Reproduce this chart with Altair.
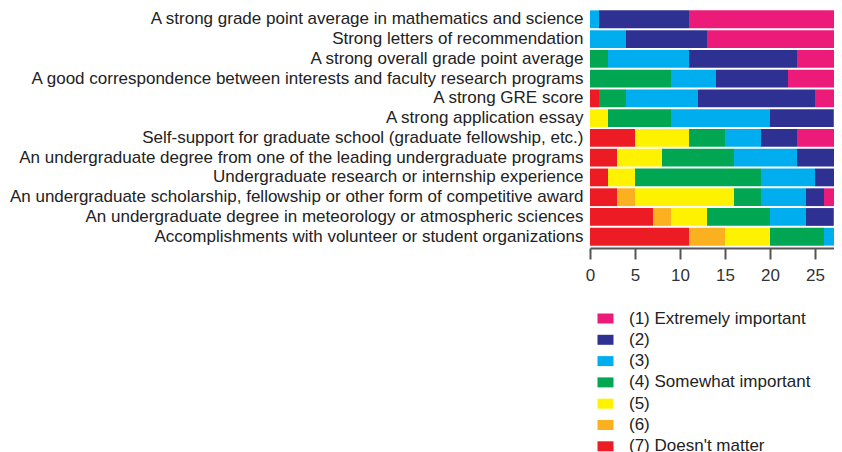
import altair as alt
import pandas as pd

items = [
    "A strong grade point average in mathematics and science",
    "Strong letters of recommendation",
    "A strong overall grade point average",
    "A good correspondence between interests and faculty research programs",
    "A strong GRE score",
    "A strong application essay",
    "Self-support for graduate school (graduate fellowship, etc.)",
    "An undergraduate degree from one of the leading undergraduate programs",
    "Undergraduate research or internship experience",
    "An undergraduate scholarship, fellowship or other form of competitive award",
    "An undergraduate degree in meteorology or atmospheric sciences",
    "Accomplishments with volunteer or student organizations",
]

levels = [
    "(1) Extremely important",
    "(2)",
    "(3)",
    "(4) Somewhat important",
    "(5)",
    "(6)",
    "(7) Doesn't matter",
]
colors = ["#EC1B7A", "#2E3192", "#00AEEF", "#00A651", "#FFF200", "#FBB01F", "#ED1C24"]

lvl1 = [17, 15, 5, 6, 3, 1, 5, 0, 0, 2, 1, 0]
lvl2 = [10, 9, 12, 8, 13, 7, 4, 5, 3, 2, 3, 0]
lvl3 = [1, 4, 9, 5, 8, 11, 4, 7, 6, 5, 4, 2]
lvl4 = [0, 0, 2, 9, 3, 7, 4, 8, 14, 3, 7, 6]
lvl5 = [0, 0, 0, 0, 0, 2, 6, 5, 3, 11, 4, 5]
lvl6 = [0, 0, 0, 0, 0, 0, 0, 0, 0, 2, 2, 4]
lvl7 = [0, 0, 0, 0, 1, 0, 5, 3, 2, 3, 7, 11]

series = [lvl1, lvl2, lvl3, lvl4, lvl5, lvl6, lvl7]

rows = []
for k, (lab, vals) in enumerate(zip(levels, series)):
    for it, v in zip(items, vals):
        rows.append({"item": it, "level": lab, "count": v, "ord": 7 - k})
df = pd.DataFrame(rows)

font = "Liberation Sans"

chart = (
    alt.Chart(df)
    .mark_bar(clip=True)
    .encode(
        y=alt.Y(
            "item:N",
            sort=items,
            scale=alt.Scale(paddingInner=0.1, paddingOuter=0.12),
            axis=alt.Axis(
                title=None, ticks=False, domain=False, labelPadding=7,
                labelLimit=0, labelFontSize=17, labelFont=font, labelColor="#222",
            ),
        ),
        x=alt.X(
            "sum(count):Q",
            stack="zero",
            scale=alt.Scale(domain=[0, 27.11], nice=False),
            axis=alt.Axis(
                title=None, values=[0, 5, 10, 15, 20, 25], grid=False,
                domainColor="#555", domainWidth=2, tickColor="#555", tickWidth=2,
                tickSize=11, labelPadding=8, labelFontSize=17, labelFont=font,
                labelColor="#333", labelFlush=False,
            ),
        ),
        color=alt.Color(
            "level:N",
            scale=alt.Scale(domain=levels, range=colors),
            legend=alt.Legend(
                title=None, orient="none", legendX=7, legendY=302,
                symbolType="M-1,-0.625H1V0.625H-1Z", symbolSize=256,
                symbolStrokeWidth=0, symbolOpacity=1, labelLimit=0,
                labelFontSize=17, labelFont=font, labelColor="#222",
                rowPadding=3.3, labelOffset=15,
            ),
        ),
        order=alt.Order("ord:Q", sort="ascending"),
    )
    .properties(
        width=244,
        height=240,
        autosize=alt.AutoSizeParams(type="none"),
        padding={"left": 582, "top": 0, "right": 0, "bottom": 204},
    )
    .configure_view(stroke=None)
)

chart.save("out.html", embed_options={"renderer": "svg", "actions": False})
